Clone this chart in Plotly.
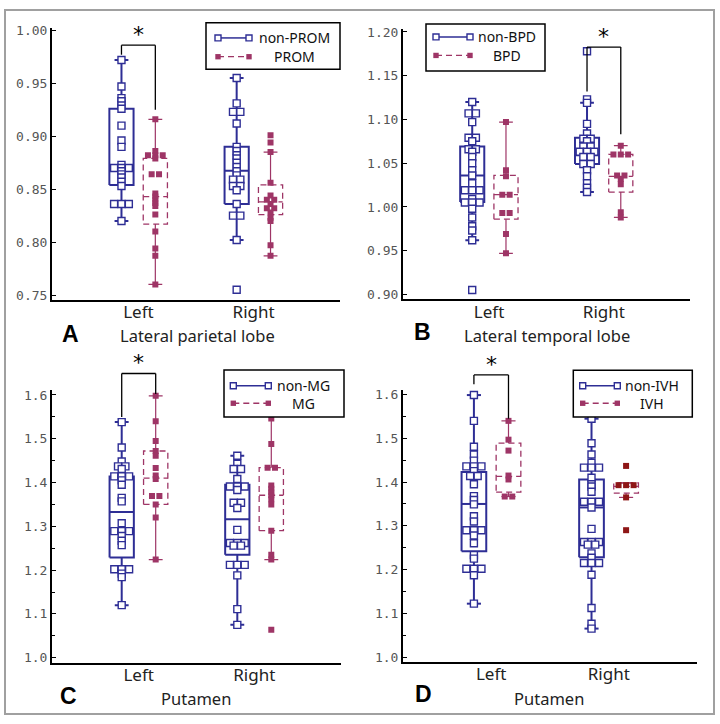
import plotly.graph_objects as go

W, H = 720, 724
BLUE = "#2E2E95"
RED = "#9E3566"
RED_DARK = "#8E1616"

categories = ["Left", "Right"]
cat_pos = [1, 2]

# ---------------- Panel A : Lateral parietal lobe (non-PROM / PROM)
A_left_ctrl = [0.972, 0.947, 0.936, 0.933, 0.929, 0.926, 0.910, 0.896, 0.890, 0.873, 0.870, 0.870,
               0.870, 0.867, 0.864, 0.861, 0.857, 0.853, 0.836, 0.836, 0.836, 0.820]
A_left_case = [0.916, 0.886, 0.882, 0.882, 0.882, 0.879, 0.864, 0.864, 0.846, 0.843, 0.840, 0.837,
               0.834, 0.826, 0.810, 0.794, 0.787, 0.760]
A_right_ctrl = [0.955, 0.931, 0.923, 0.923, 0.912, 0.890, 0.886, 0.882, 0.879, 0.875, 0.871, 0.867,
                0.863, 0.859, 0.859, 0.853, 0.853, 0.849, 0.836, 0.825, 0.825, 0.802, 0.755]
A_right_case = [0.901, 0.894, 0.885, 0.856, 0.844, 0.840, 0.840, 0.836, 0.832, 0.832, 0.828, 0.823,
                0.820, 0.797, 0.787]
# box statistics: [lower whisker, Q1, median, Q3, upper whisker]
A_left_ctrl_box = [0.820, 0.854, 0.870, 0.926, 0.972]
A_left_case_box = [0.760, 0.817, 0.843, 0.879, 0.916]
A_right_ctrl_box = [0.802, 0.836, 0.8675, 0.890, 0.955]
A_right_case_box = [0.787, 0.826, 0.838, 0.854, 0.885]

# ---------------- Panel B : Lateral temporal lobe (non-BPD / BPD)
B_left_ctrl = [1.120, 1.107, 1.107, 1.097, 1.079, 1.079, 1.075, 1.066, 1.066, 1.063, 1.057, 1.050,
               1.042, 1.036, 1.027, 1.019, 1.019, 1.019, 1.009, 1.005, 1.005, 1.005, 0.998, 0.988,
               0.978, 0.973, 0.962, 0.905]
B_left_case = [1.097, 1.042, 1.035, 1.014, 1.014, 0.993, 0.993, 0.969, 0.947]
B_right_ctrl = [1.178, 1.123, 1.119, 1.095, 1.084, 1.078, 1.078, 1.075, 1.069, 1.069, 1.063, 1.063,
                1.063, 1.057, 1.057, 1.049, 1.049, 1.042, 1.035, 1.027, 1.022, 1.017]
B_right_case = [1.070, 1.060, 1.060, 1.060, 1.036, 1.036, 1.032, 1.026, 0.994, 0.988]
B_left_ctrl_box = [0.962, 1.0055, 1.036, 1.069, 1.120]
B_left_case_box = [0.947, 0.986, 1.014, 1.036, 1.097]
B_right_ctrl_box = [1.017, 1.049, 1.059, 1.079, 1.119]
B_right_case_box = [0.988, 1.017, 1.035, 1.060, 1.070]

# ---------------- Panel C : Putamen (non-MG / MG)
C_left_ctrl = [1.538, 1.480, 1.448, 1.437, 1.437, 1.431, 1.414, 1.414, 1.414, 1.405, 1.395, 1.365,
               1.357, 1.307, 1.289, 1.289, 1.289, 1.278, 1.267, 1.257, 1.202, 1.202, 1.202, 1.192,
               1.184, 1.120]
C_left_case = [1.598, 1.540, 1.495, 1.472, 1.461, 1.433, 1.416, 1.408, 1.369, 1.369, 1.350, 1.320,
               1.224]
C_right_ctrl = [1.461, 1.443, 1.431, 1.431, 1.408, 1.391, 1.391, 1.391, 1.383, 1.354, 1.354, 1.342,
                1.292, 1.262, 1.262, 1.262, 1.256, 1.256, 1.212, 1.212, 1.212, 1.188, 1.111, 1.075]
C_right_case = [1.580, 1.546, 1.488, 1.434, 1.434, 1.393, 1.386, 1.378, 1.371, 1.362, 1.350, 1.290,
                1.235, 1.224, 1.064]
C_left_ctrl_box = [1.120, 1.229, 1.333, 1.414, 1.538]
C_left_case_box = [1.224, 1.350, 1.410, 1.472, 1.598]
C_right_ctrl_box = [1.075, 1.235, 1.316, 1.395, 1.461]
C_right_case_box = [1.224, 1.290, 1.371, 1.434, 1.580]

# ---------------- Panel D : Putamen (non-IVH / IVH)
D_left_ctrl = [1.599, 1.540, 1.481, 1.463, 1.449, 1.436, 1.436, 1.436, 1.425, 1.414, 1.414, 1.395,
               1.368, 1.359, 1.349, 1.322, 1.310, 1.290, 1.290, 1.290, 1.278, 1.260, 1.233, 1.225,
               1.202, 1.202, 1.202, 1.187, 1.122]
D_left_case = [1.540, 1.497, 1.472, 1.415, 1.406, 1.367, 1.367]
D_right_ctrl = [1.545, 1.489, 1.463, 1.444, 1.433, 1.433, 1.433, 1.410, 1.395, 1.390, 1.378, 1.355,
                1.355, 1.355, 1.342, 1.293, 1.263, 1.263, 1.263, 1.257, 1.257, 1.237, 1.227, 1.215,
                1.215, 1.215, 1.188, 1.112, 1.076, 1.065]
D_right_case = [1.437, 1.393, 1.393, 1.393, 1.365, 1.290]
D_left_ctrl_box = [1.122, 1.242, 1.350, 1.423, 1.599]
D_left_case_box = [1.367, 1.377, 1.413, 1.489, 1.540]
D_right_ctrl_box = [1.065, 1.228, 1.342, 1.406, 1.545]
D_right_case_box = [1.365, 1.375, 1.390, 1.398, 1.398]

panel_letters = ["A", "B", "C", "D"]
panel_titles = ["Lateral parietal lobe", "Lateral temporal lobe", "Putamen", "Putamen"]
ctrl_names = ["non-PROM", "non-BPD", "non-MG", "non-IVH"]
case_names = ["PROM", "BPD", "MG", "IVH"]
# significance brackets: category, bracket level, left end, right end
sig_cat = [1, 2, 1, 1]
sig_top = [0.986, 1.1827, 1.649, 1.645]
sig_left_end = [0.977, 1.132, 1.5495, 1.624]
sig_right_end = [0.925, 1.083, 1.602, 1.545]

data = [
    [(A_left_ctrl, A_left_case, A_left_ctrl_box, A_left_case_box, RED),
     (A_right_ctrl, A_right_case, A_right_ctrl_box, A_right_case_box, RED)],
    [(B_left_ctrl, B_left_case, B_left_ctrl_box, B_left_case_box, RED),
     (B_right_ctrl, B_right_case, B_right_ctrl_box, B_right_case_box, RED)],
    [(C_left_ctrl, C_left_case, C_left_ctrl_box, C_left_case_box, RED),
     (C_right_ctrl, C_right_case, C_right_ctrl_box, C_right_case_box, RED)],
    [(D_left_ctrl, D_left_case, D_left_ctrl_box, D_left_case_box, RED),
     (D_right_ctrl, D_right_case, D_right_ctrl_box, D_right_case_box, RED_DARK)],
]

# ---------------- layout geometry (pixels)
plot_px = [  # x0, x1, ytop, ybottom
    (52, 340, 23.3, 298.0),
    (403, 690, 24.0, 297.7),
    (52, 341, 389.3, 665.0),
    (403, 697, 389.3, 664.3),
]
y_ranges = [(0.7456, 1.0022), (0.8943, 1.2037), (0.9887, 1.6113), (0.9887, 1.6106)]
y_dticks = [0.05, 0.05, 0.1, 0.1]
y_formats = [".2f", ".2f", ".1f", ".1f"]
x_range = [0.25, 2.75]
legend_px = [  # box x0, x1, y0, y1, line x0, x1, row1 y, row2 y, text centre x
    (206, 340, 18, 65, 218, 249, 33.3, 52.3, 294),
    (426, 545, 19.3, 66.7, 436, 470, 32.3, 51.0, 507),
    (224, 344, 369, 416.7, 233.3, 268.3, 385, 402.7, 303),
    (573.3, 692.3, 369.3, 416.7, 582.7, 617.3, 385, 402.7, 652),
]
title_px = [(197, 334), (547, 334), (196, 701), (549, 701)]
letter_px = [(70, 333), (422, 331), (68, 699), (423, 697)]

OFF = 0.147   # group offset within category
HW = 0.105    # half box width
CW = 0.06     # half cap width
DX = 0.064    # horizontal spacing of tied points


def px_x(px):
    return px / W


def px_y(py):
    return 1 - py / H


def val2paper(k, v):
    x0, x1, yt, yb = plot_px[k]
    r0, r1 = y_ranges[k]
    d0, d1 = px_y(yb), px_y(yt)
    return d0 + (v - r0) / (r1 - r0) * (d1 - d0)


def swarm(vals, xc):
    counts = {}
    for v in vals:
        counts[v] = counts.get(v, 0) + 1
    seen = {}
    xs = []
    for v in vals:
        n = counts[v]
        i = seen.get(v, 0)
        seen[v] = i + 1
        xs.append(xc + (i - (n - 1) / 2) * DX)
    return xs


def box_rect(xc, st):
    lo, q1, med, q3, hi = st
    xs = [xc - HW, xc + HW, xc + HW, xc - HW, xc - HW, None, xc - HW, xc + HW]
    ys = [q1, q1, q3, q3, q1, None, med, med]
    return xs, ys


def whiskers(xc, st):
    lo, q1, med, q3, hi = st
    xs = [xc, xc, None, xc, xc, None, xc - CW, xc + CW, None, xc - CW, xc + CW]
    ys = [q3, hi, None, q1, lo, None, hi, hi, None, lo, lo]
    return xs, ys


fig = go.Figure()
shapes = []
annotations = []

for k in range(4):
    xa = "x" if k == 0 else f"x{k + 1}"
    ya = "y" if k == 0 else f"y{k + 1}"
    marker_traces = []
    for j, (ctrl, case, cbox, kbox, kcol) in enumerate(data[k]):
        xc_c = cat_pos[j] - OFF
        xc_k = cat_pos[j] + OFF
        bx, by = box_rect(xc_c, cbox)
        wx, wy = whiskers(xc_c, cbox)
        fig.add_trace(go.Scatter(x=bx + [None] + wx, y=by + [None] + wy, mode="lines",
                                 line=dict(color=BLUE, width=2), xaxis=xa, yaxis=ya,
                                 showlegend=False, hoverinfo="skip"))
        bx, by = box_rect(xc_k, kbox)
        fig.add_trace(go.Scatter(x=bx, y=by, mode="lines",
                                 line=dict(color=RED, width=1.3, dash="6px,4px"), xaxis=xa, yaxis=ya,
                                 showlegend=False, hoverinfo="skip"))
        wx, wy = whiskers(xc_k, kbox)
        fig.add_trace(go.Scatter(x=wx, y=wy, mode="lines",
                                 line=dict(color=RED, width=1.2), xaxis=xa, yaxis=ya,
                                 showlegend=False, hoverinfo="skip"))
        marker_traces.append(go.Scatter(
            x=swarm(ctrl, xc_c), y=ctrl, mode="markers", xaxis=xa, yaxis=ya,
            marker=dict(symbol="square", size=7, color="white", line=dict(color=BLUE, width=1.4)),
            name=ctrl_names[k], showlegend=False))
        marker_traces.append(go.Scatter(
            x=swarm(case, xc_k), y=case, mode="markers", xaxis=xa, yaxis=ya,
            marker=dict(symbol="square", size=6, color=kcol, line=dict(width=0)),
            name=case_names[k], showlegend=False))
    for t in marker_traces:
        fig.add_trace(t)

    x0, x1, yt, yb = plot_px[k]
    xkey = "xaxis" if k == 0 else f"xaxis{k + 1}"
    ykey = "yaxis" if k == 0 else f"yaxis{k + 1}"
    fig.layout[xkey] = dict(
        domain=[px_x(x0), px_x(x1)], range=x_range, anchor=ya,
        showline=True, linecolor="black", linewidth=2, ticks="", ticklen=0,
        ticklabelstandoff=-4,
        tickvals=cat_pos, ticktext=categories,
        tickfont=dict(family="Noto Sans", size=17, color="#222222"),
        showgrid=False, zeroline=False, fixedrange=True)
    ydict = dict(
        domain=[px_y(yb), px_y(yt)], range=list(y_ranges[k]), anchor=xa,
        showline=True, linecolor="black", linewidth=2,
        ticks="inside", ticklen=4, tickwidth=1.2, tickcolor="black",
        tick0=0, dtick=y_dticks[k], tickformat=y_formats[k],
        tickfont=dict(family="DejaVu Sans Mono", size=13, color="#555555"),
        showgrid=False, zeroline=False, fixedrange=True)
    if k >= 2:
        ydict["minor"] = dict(ticks="inside", ticklen=3, tickwidth=1, tickcolor="black",
                              dtick=0.05, tick0=0, showgrid=False)
    fig.layout[ykey] = ydict

    # significance bracket
    xl = sig_cat[k] - OFF
    xr = sig_cat[k] + OFF
    yt_p = val2paper(k, sig_top[k])
    for (ax0, ay0, ax1, ay1) in [(xl, sig_left_end[k], xl, sig_top[k]),
                                 (xl, sig_top[k], xr, sig_top[k]),
                                 (xr, sig_top[k], xr, sig_right_end[k])]:
        shapes.append(dict(type="line", xref=xa, yref="paper", x0=ax0, x1=ax1,
                           y0=val2paper(k, ay0), y1=val2paper(k, ay1),
                           line=dict(color="black", width=1.3), layer="above"))
    annotations.append(dict(x=sig_cat[k], xref=xa, y=yt_p, yref="paper", text="*",
                            showarrow=False, xanchor="center", yanchor="bottom",
                            yshift=-4,
                            font=dict(family="DejaVu Sans", size=22, color="black")))

    # legend (drawn)
    bx0, bx1, by0, by1, lx0, lx1, r1, r2, tx = legend_px[k]
    shapes.append(dict(type="rect", xref="paper", yref="paper", x0=px_x(bx0), x1=px_x(bx1),
                       y0=px_y(by1), y1=px_y(by0), fillcolor="white",
                       line=dict(color="black", width=1.5), layer="above"))
    shapes.append(dict(type="line", xref="paper", yref="paper", x0=px_x(lx0), x1=px_x(lx1),
                       y0=px_y(r1), y1=px_y(r1), line=dict(color=BLUE, width=1.5), layer="above"))
    shapes.append(dict(type="line", xref="paper", yref="paper", x0=px_x(lx0), x1=px_x(lx1),
                       y0=px_y(r2), y1=px_y(r2), line=dict(color=RED, width=1.3, dash="6px,4px"),
                       layer="above"))
    for lx in (lx0, lx1):
        shapes.append(dict(type="rect", xref="paper", yref="paper",
                           x0=px_x(lx - 3), x1=px_x(lx + 3), y0=px_y(r1 + 3), y1=px_y(r1 - 3),
                           fillcolor="white", line=dict(color=BLUE, width=1.4), layer="above"))
        shapes.append(dict(type="rect", xref="paper", yref="paper",
                           x0=px_x(lx - 2.7), x1=px_x(lx + 2.7), y0=px_y(r2 + 2.7), y1=px_y(r2 - 2.7),
                           fillcolor=RED, line=dict(width=0), layer="above"))
    for txt, ry in ((ctrl_names[k], r1), (case_names[k], r2)):
        annotations.append(dict(x=px_x(tx), y=px_y(ry), xref="paper", yref="paper", text=txt,
                                showarrow=False, xanchor="center", yanchor="middle",
                                font=dict(family="Noto Sans", size=14, color="#111111")))

    # axis title and panel letter
    annotations.append(dict(x=px_x(title_px[k][0]), y=px_y(title_px[k][1]), xref="paper",
                            yref="paper", text=panel_titles[k], showarrow=False,
                            xanchor="center", yanchor="middle",
                            font=dict(family="Noto Sans", size=16.5, color="#222222")))
    annotations.append(dict(x=px_x(letter_px[k][0]), y=px_y(letter_px[k][1]), xref="paper",
                            yref="paper", text="<b>" + panel_letters[k] + "</b>", showarrow=False,
                            xanchor="center", yanchor="middle",
                            font=dict(family="Liberation Sans", size=23, color="black")))

# outer frame
shapes.append(dict(type="rect", xref="paper", yref="paper", x0=px_x(5), x1=px_x(714),
                   y0=px_y(717), y1=px_y(5), line=dict(color="#A0A0A0", width=2), layer="below"))

fig.update_layout(
    width=W, height=H, margin=dict(l=0, r=0, t=0, b=0),
    paper_bgcolor="white", plot_bgcolor="white",
    shapes=shapes, annotations=annotations, showlegend=False,
)

fig.write_html("out.html", config={"displayModeBar": False},
               post_script="document.body.style.margin='0';")
